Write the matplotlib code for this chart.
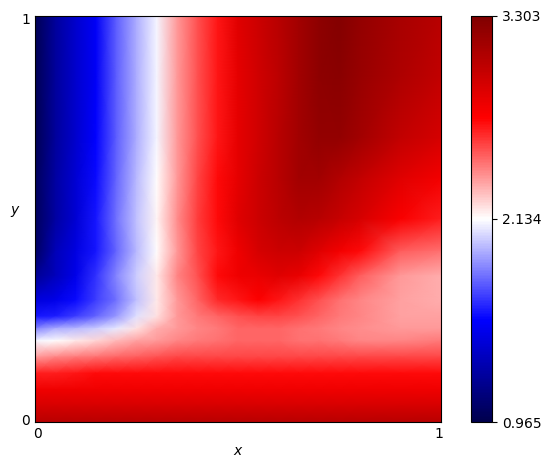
import matplotlib
matplotlib.use("Agg")
import matplotlib.pyplot as plt  # noqa: E402
import numpy as np  # noqa: E402

VMIN, VMID, VMAX = 0.965, 2.134, 3.303

x_grid = [0, .05, .1, .15, .2, .25, .3, .35, .4, .45, .5, .55, .6, .65, .7, .75, .8, .9, 1]
y_grid = [1, .85, .7, .6, .5, .42, .36, .3, .26, .23, .2, .16, .12, .08, .04, 0]

# position on the colour range (0 = VMIN, 1 = VMAX), rows from top to bottom
row_y100 = [.01, .11, .18, .24, .34, .42, .49, .60, .67, .73, .81, .85, .89, .93, .97, .99, .96, .92, .89]
row_y085 = [.01, .11, .18, .24, .34, .42, .49, .60, .67, .73, .80, .84, .88, .93, .97, .98, .95, .91, .87]
row_y070 = [.01, .11, .18, .25, .34, .42, .49, .60, .67, .73, .80, .84, .89, .93, .96, .96, .93, .87, .83]
row_y060 = [.02, .12, .19, .26, .35, .43, .50, .60, .68, .74, .80, .85, .89, .93, .93, .90, .87, .81, .77]
row_y050 = [.02, .12, .19, .27, .36, .44, .51, .61, .69, .74, .81, .85, .88, .90, .89, .86, .83, .76, .72]
row_y042 = [.03, .15, .21, .27, .35, .43, .50, .60, .68, .73, .78, .83, .85, .85, .81, .77, .74, .66, .64]
row_y036 = [.10, .16, .22, .30, .38, .45, .52, .62, .67, .74, .78, .79, .81, .79, .74, .70, .66, .60, .58]
row_y030 = [.20, .22, .26, .31, .36, .44, .52, .60, .65, .71, .73, .75, .73, .70, .67, .64, .62, .59, .58]
row_y026 = [.27, .28, .31, .35, .40, .47, .53, .60, .63, .65, .67, .68, .68, .67, .65, .63, .62, .59, .59]
row_y023 = [.38, .42, .43, .45, .48, .53, .58, .60, .62, .63, .65, .65, .65, .64, .63, .62, .61, .60, .60]
row_y020 = [.49, .50, .52, .54, .57, .59, .60, .62, .63, .64, .65, .65, .65, .64, .64, .63, .62, .62, .63]
row_y016 = [.60, .62, .63, .64, .65, .66, .67, .68, .68, .68, .68, .68, .68, .68, .68, .68, .68, .68, .68]
row_y012 = [.72, .72, .73, .74, .74, .74, .74, .74, .74, .74, .74, .74, .74, .74, .74, .74, .74, .74, .74]
row_y008 = [.78, .78, .78, .78, .78, .78, .78, .78, .78, .78, .78, .78, .78, .78, .78, .78, .78, .78, .78]
row_y004 = [.83, .83, .83, .83, .83, .83, .83, .83, .83, .83, .83, .83, .83, .83, .83, .83, .83, .83, .83]
row_y000 = [.89, .89, .89, .89, .89, .89, .89, .89, .89, .89, .89, .89, .89, .89, .89, .89, .89, .89, .89]

frac = np.array([row_y100, row_y085, row_y070, row_y060, row_y050, row_y042, row_y036, row_y030,
                 row_y026, row_y023, row_y020, row_y016, row_y012, row_y008, row_y004, row_y000])
z = VMIN + frac * (VMAX - VMIN)

W, H = 551, 470
fig = plt.figure(figsize=(W / 100, H / 100), dpi=100)
ax = fig.add_axes([35 / W, 1 - 422 / H, 406 / W, 406 / H])
cax = fig.add_axes([471 / W, 1 - 422 / H, 21 / W, 406 / H])

X, Y = np.meshgrid(x_grid, y_grid)
mesh = ax.pcolormesh(X, Y, z, cmap="seismic", vmin=VMIN, vmax=VMAX, shading="gouraud")
ax.set_xlim(0, 1)
ax.set_ylim(0, 1)

# the original ticks sit on the centres of the first and last cells
ax.set_xticks([0.005, 0.995], ["0", "1"])
ax.set_yticks([0.005, 0.995], ["0", "1"])
ax.tick_params(length=0, pad=3.5)
ax.set_xlabel("$x$", labelpad=2)
ax.set_ylabel("$y$", rotation=0, labelpad=4)

cb = fig.colorbar(mesh, cax=cax)
cb.set_ticks([VMIN, VMID, VMAX], labels=["0.965", "2.134", "3.303"])

fig.savefig("out.png", dpi=100)
